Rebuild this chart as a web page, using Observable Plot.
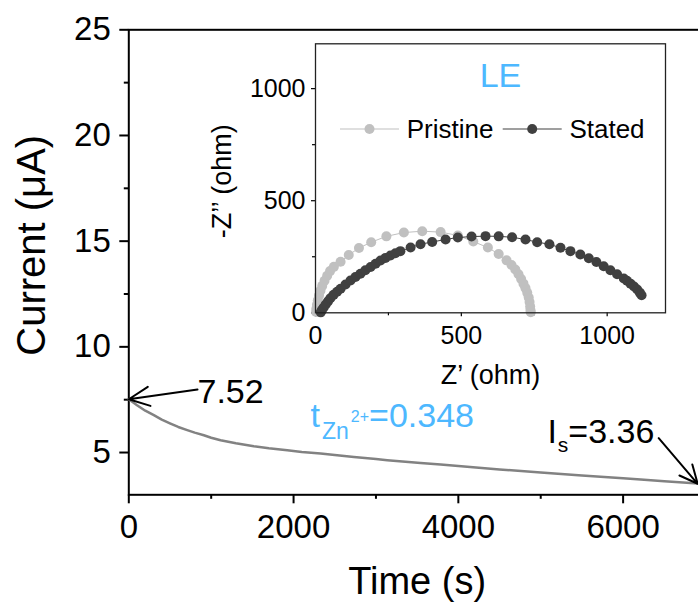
<!DOCTYPE html>
<html><head><meta charset="utf-8">
<script src="https://cdn.jsdelivr.net/npm/d3@7"></script>
<script src="https://cdn.jsdelivr.net/npm/@observablehq/plot@0.6"></script>
<style>
body{margin:0;background:#fff;}
#wrap{position:relative;width:698px;height:607px;overflow:hidden;font-family:"Liberation Sans",Arial,sans-serif;}
#wrap svg{position:absolute;max-width:none;}
</style></head><body><div id="wrap"></div>
<script>
// ---- main chart: current decay ----
const timeS = [0, 50, 100, 200, 304, 400, 506, 600, 709, 800, 911, 1000, 1114, 1300, 1518, 1700, 1923, 2100, 2328, 2500, 2732, 3000, 3137, 3542, 3785, 4000, 4500, 5000, 5500, 6000, 6213, 6500, 6918, 7000];
const currentUA = [7.52, 7.38, 7.24, 6.98, 6.77, 6.56, 6.37, 6.21, 6.06, 5.94, 5.82, 5.70, 5.58, 5.44, 5.30, 5.20, 5.11, 5.03, 4.95, 4.88, 4.79, 4.69, 4.64, 4.50, 4.43, 4.36, 4.20, 4.05, 3.91, 3.78, 3.72, 3.64, 3.53, 3.50];
const xMajorTicks = [0, 2000, 4000, 6000];
const xMinorTicks = [1000, 3000, 5000, 7000];
const yMajorTicks = [5, 10, 15, 20, 25];
const yMinorTicks = [7.5, 12.5, 17.5, 22.5];

// annotations
const annotLabels = ["7.52", "Is=3.36", "tZn2+=0.348"];
const annotT = [834, 5081, 2206];
const annotI = [7.32, 5.43, 6.20];
const arrowFromT = [834, 6432];
const arrowFromI = [7.98, 5.68];
const arrowToT = [0, 6905];
const arrowToI = [7.52, 3.52];

// ---- inset: Nyquist ----
const pristineZre = [2, 3, 5, 8, 12, 17, 23, 31, 40, 50, 63, 86, 114, 149, 191, 243, 303, 366, 429, 488, 541, 591, 628, 655, 672, 685, 696, 705, 713, 720, 726, 731, 734, 736, 737, 738];
const pristineZim = [4, 18, 36, 56, 77, 98, 120, 143, 165, 186, 205, 228, 258, 289, 315, 341, 358, 364, 360, 345, 318, 291, 262, 234, 213, 193, 172, 151, 130, 110, 89, 68, 48, 28, 12, 3];
const statedZre = [18, 22, 28, 35, 43, 51, 62, 74, 86, 103, 120, 137, 154, 171, 189, 206, 223, 240, 257, 274, 291, 326, 360, 400, 446, 488, 535, 583, 628, 674, 720, 760, 802, 840, 874, 908, 937, 963, 988, 1011, 1034, 1057, 1068, 1080, 1092, 1103, 1112, 1118];
const statedZim = [2, 12, 24, 37, 51, 65, 80, 94, 107, 126, 144, 160, 174, 190, 204, 219, 233, 245, 256, 266, 275, 291, 306, 316, 327, 336, 340, 342, 341, 337, 327, 315, 306, 290, 275, 260, 243, 227, 208, 190, 172, 153, 143, 130, 117, 104, 90, 78];
const insetTicks = [0, 500, 1000];
const insetMinor = [250, 750];
const seriesNames = ["Pristine", "Stated"];

const FONT = '"Liberation Sans", Arial, sans-serif';
const BLUE = "#4db8ff";
const PRISTINE = "#c0c0c0";
const STATED = "#404040";
const fmt = (d) => String(d);

const curve = timeS.map((t, i) => ({t, I: currentUA[i]}));
const labels = annotLabels.map((s, i) => ({s, t: annotT[i], I: annotI[i]}));
const arrows = arrowFromT.map((t, i) => ({x1: t, y1: arrowFromI[i], x2: arrowToT[i], y2: arrowToI[i]}));

const main = Plot.plot({
  width: 705, height: 607,
  marginLeft: 128.3, marginTop: 29.3, marginRight: 0, marginBottom: 112.7,
  x: {domain: [0, 7000]},
  y: {domain: [3, 25]},
  style: {fontFamily: FONT, background: "white", maxWidth: "none", color: "black"},
  marks: [
    Plot.frame({stroke: "black", strokeWidth: 2}),
    Plot.axisX(xMajorTicks, {tickSize: 9, tickPadding: 11, strokeWidth: 2, fontSize: 33, label: null, tickFormat: fmt}),
    Plot.axisX(xMinorTicks, {tickSize: 4.5, strokeWidth: 2, text: null, label: null}),
    Plot.axisY(yMajorTicks, {tickSize: 9, tickPadding: 9, strokeWidth: 2, fontSize: 33, label: null, tickFormat: fmt}),
    Plot.axisY(yMinorTicks, {tickSize: 4.5, strokeWidth: 2, text: null, label: null}),
    Plot.line(curve, {x: "t", y: "I", stroke: "#828282", strokeWidth: 2.5}),
    Plot.arrow(arrows, {x1: "x1", y1: "y1", x2: "x2", y2: "y2", stroke: "black", strokeWidth: 2, headLength: 17, headAngle: 50}),
    Plot.text(labels, {x: "t", y: "I", text: "s", textAnchor: "start", lineAnchor: "bottom", fontSize: 34,
      fill: (d) => d.s.startsWith("t") ? BLUE : "black"}),
    Plot.text(["Time (s)"], {frameAnchor: "bottom", textAnchor: "middle", lineAnchor: "middle", dy: 87, fontSize: 38}),
    Plot.text(["Current (μA)"], {frameAnchor: "left", textAnchor: "middle", lineAnchor: "middle", rotate: -90, dx: -97, dy: -17, fontSize: 40})
  ]
});

const inset = Plot.plot({
  width: 480, height: 360,
  marginLeft: 115, marginTop: 8.3, marginRight: 15, marginBottom: 82.7,
  x: {domain: [0, 1200]},
  y: {domain: [0, 1200]},
  style: {fontFamily: FONT, background: "transparent", maxWidth: "none", color: "black", overflow: "visible"},
  marks: [
    Plot.frame({fill: "white"}),
    Plot.axisX(insetTicks, {tickSize: 4, tickPadding: 9, strokeWidth: 1.2, fontSize: 25, label: null, tickFormat: fmt}),
    Plot.axisX(insetMinor, {tickSize: 3, strokeWidth: 1.2, text: null, label: null}),
    Plot.axisY(insetTicks, {tickSize: 4, tickPadding: 6, strokeWidth: 1.2, fontSize: 25, label: null, tickFormat: fmt}),
    Plot.axisY(insetMinor, {tickSize: 3, strokeWidth: 1.2, text: null, label: null}),
    Plot.line(pristineZre.map((x, i) => ({x, y: pristineZim[i]})), {x: "x", y: "y", stroke: PRISTINE, strokeWidth: 1}),
    Plot.dot(pristineZre.map((x, i) => ({x, y: pristineZim[i]})), {x: "x", y: "y", r: 5, fill: PRISTINE}),
    Plot.line(statedZre.map((x, i) => ({x, y: statedZim[i]})), {x: "x", y: "y", stroke: STATED, strokeWidth: 1}),
    Plot.dot(statedZre.map((x, i) => ({x, y: statedZim[i]})), {x: "x", y: "y", r: 5, fill: STATED}),
    Plot.frame({stroke: "#222", strokeWidth: 1.3}),
    Plot.text(["LE"], {frameAnchor: "top", textAnchor: "middle", lineAnchor: "middle", dx: 10, dy: 32.5, fontSize: 34, fill: BLUE}),
    Plot.text(["Z’ (ohm)"], {frameAnchor: "bottom", textAnchor: "middle", lineAnchor: "middle", dy: 62.7, fontSize: 27}),
    Plot.text(["-Z’’ (ohm)"], {frameAnchor: "left", textAnchor: "middle", lineAnchor: "middle", rotate: -90, dx: -93, dy: 3, fontSize: 27})
  ]
});

// legend inside the inset (screen coords of the inset svg)
const lg = d3.select(inset).append("g").attr("font-family", FONT).attr("font-size", 26).attr("text-anchor", "start");
const legendLayout = [{x0: 140, color: PRISTINE}, {x0: 302.7, color: STATED}];
seriesNames.forEach((name, i) => {
  const L = legendLayout[i];
  lg.append("line").attr("x1", L.x0).attr("x2", L.x0 + 59).attr("y1", 94).attr("y2", 94).attr("stroke", L.color).attr("stroke-width", 1.2);
  lg.append("circle").attr("cx", L.x0 + 29.5).attr("cy", 94).attr("r", 5).attr("fill", L.color);
  lg.append("text").attr("x", L.x0 + 66.7).attr("y", 102.5).attr("fill", "black").text(name);
});

// rich text (sub/superscripts)
function richText(svg, plain, parts) {
  d3.select(svg).selectAll("text").filter(function () { return this.textContent === plain; })
    .each(function () {
      const t = d3.select(this); t.text(null);
      let shift = 0;
      for (const p of parts) {
        t.append("tspan").attr("font-size", p.size).attr("dy", p.shift - shift).attr("dx", p.dx || 0).text(p.text);
        shift = p.shift;
      }
    });
}
richText(main, "Is=3.36", [{text: "I", size: 34, shift: 0}, {text: "s", size: 21, shift: 9, dx: 1}, {text: "=3.36", size: 34, shift: 0}]);
richText(main, "tZn2+=0.348", [{text: "t", size: 34, shift: 0}, {text: "Zn", size: 23, shift: 11.5, dx: 2}, {text: "2+", size: 16, shift: -5, dx: 2}, {text: "=0.348", size: 34, shift: 0, dx: 0}]);

const wrap = document.getElementById("wrap");
main.style.left = "0px"; main.style.top = "0px";
inset.style.left = "200px"; inset.style.top = "35px";
wrap.appendChild(main);
wrap.appendChild(inset);
</script></body></html>
